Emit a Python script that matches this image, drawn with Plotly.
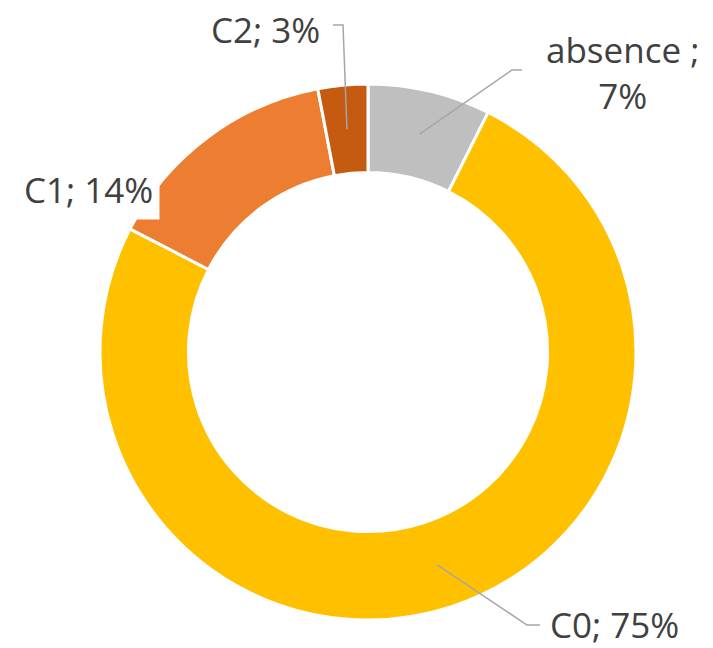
import math
import plotly.graph_objects as go

labels = ["absence ", "C0", "C1", "C2"]
values = [7.4, 75.2, 14.4, 3.0]
colors = ["#BFBFBF", "#FFC000", "#ED7D31", "#C55A11"]

W, H = 713, 648
CX, CY, R = 368, 352, 268
HOLE = 0.67

total = sum(values)
pcts = [round(v / total * 100) for v in values]

fig = go.Figure()
fig.add_trace(go.Pie(
    labels=labels, values=values, sort=False, direction="clockwise", rotation=0,
    hole=HOLE, marker=dict(colors=colors, line=dict(color="white", width=3)),
    textinfo="none", hoverinfo="skip", showlegend=False,
    domain=dict(x=[(CX - R) / W, (CX + R) / W], y=[1 - (CY + R) / H, 1 - (CY - R) / H]),
))

# anchor points at mid-ring for each slice
r_mid = R * (1 + HOLE) / 2
anchors = []
cum = 0
for v in values:
    th = 2 * math.pi * (cum + v / 2) / total
    anchors.append((CX + r_mid * math.sin(th), CY - r_mid * math.cos(th)))
    cum += v

line_style = dict(color="#A6A6A6", width=1.5)
# absence
ax, ay = anchors[0]
fig.add_shape(type="path", path=f"M {ax} {ay} L 512 70 L 522 70", line=line_style, xref="x", yref="y")
# C0
ax, ay = anchors[1]
fig.add_shape(type="path", path=f"M {ax} {ay} L 527 625 L 540 625", line=line_style, xref="x", yref="y")
# C2
ax, ay = anchors[3]
fig.add_shape(type="path", path=f"M {ax} {ay} L 343 25 L 333 25", line=line_style, xref="x", yref="y")

font = dict(family="Open Sans", size=35, color="#404040")
texts = [f"{l}; {p}%" for l, p in zip(labels, pcts)]
fig.add_annotation(x=622, y=72, text=f"{labels[0]};<br>{pcts[0]}%", showarrow=False,
                   xanchor="center", yanchor="middle", font=font, xref="x", yref="y")
fig.add_annotation(x=548, y=624, text=texts[1], showarrow=False,
                   xanchor="left", yanchor="middle", font=font, xref="x", yref="y")
fig.add_annotation(x=160, y=189, text=texts[2], showarrow=False, bgcolor="white", borderpad=6,
                   xanchor="right", yanchor="middle", font=font, xref="x", yref="y")
fig.add_annotation(x=322, y=29, text=texts[3], showarrow=False,
                   xanchor="right", yanchor="middle", font=font, xref="x", yref="y")

fig.update_layout(
    width=W, height=H, margin=dict(l=0, r=0, t=0, b=0),
    paper_bgcolor="white", plot_bgcolor="rgba(0,0,0,0)",
    xaxis=dict(range=[0, W], visible=False, fixedrange=True),
    yaxis=dict(range=[H, 0], visible=False, fixedrange=True),
)
fig.write_html("out.html", config={"displayModeBar": False},
               post_script="document.body.style.margin='0';document.body.style.padding='0';")
